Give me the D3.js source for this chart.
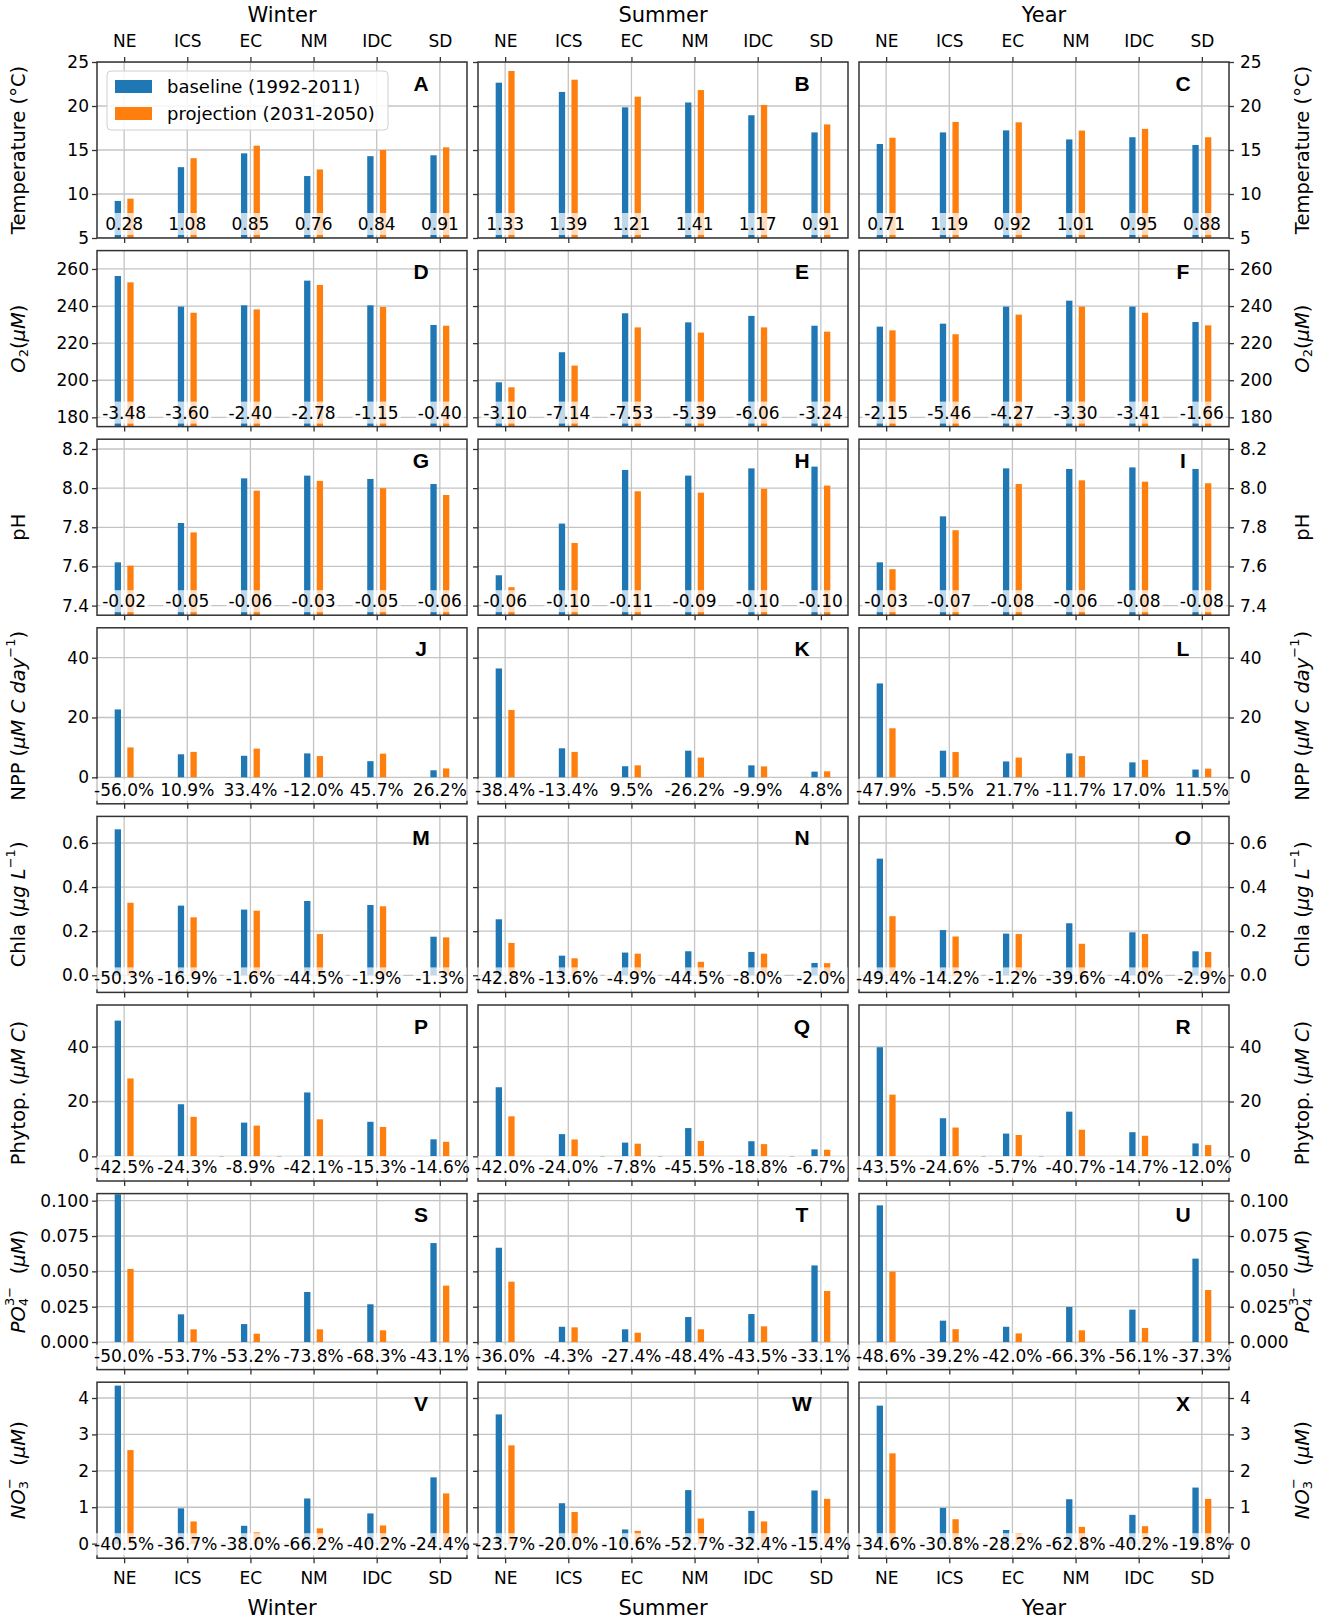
<!DOCTYPE html>
<html lang="en">
<head>
<meta charset="UTF-8">
<title>Baseline vs projection by region</title>
<script src="https://cdnjs.cloudflare.com/ajax/libs/d3/7.8.5/d3.min.js"></script>
<style>
    body { margin: 0; background: #fff; }
    svg text { font-family: "DejaVu Sans", sans-serif; fill: #000; white-space: pre; }
</style>
</head>
<body>
<svg id="chart" width="1325" height="1622"></svg>
<script>
// categories
const regions = ["NE", "ICS", "EC", "NM", "IDC", "SD"];
const periods = ["Winter", "Summer", "Year"];
const panelLetters = "ABCDEFGHIJKLMNOPQRSTUVWX".split("");
const seriesNames = ["baseline (1992-2011)", "projection (2031-2050)"];

// values per period: [Winter, Summer, Year] x regions
const tempBase = [[9.21, 13.05, 14.62, 12.04, 14.3, 14.4], [22.65, 21.6, 19.85, 20.4, 18.95, 17.0], [15.68, 17.0, 17.23, 16.2, 16.45, 15.57]];
const tempProj = [[9.47, 14.07, 15.49, 12.79, 15.0, 15.3], [23.98, 22.99, 21.06, 21.81, 20.12, 17.91], [16.39, 18.19, 18.15, 17.21, 17.4, 16.45]];
const tempDiff = [[0.28, 1.08, 0.85, 0.76, 0.84, 0.91], [1.33, 1.39, 1.21, 1.41, 1.17, 0.91], [0.71, 1.19, 0.92, 1.01, 0.95, 0.88]];

const o2Base = [[256.2, 239.7, 240.4, 253.7, 240.4, 229.8], [198.9, 215.1, 236.1, 231.2, 234.7, 229.4], [228.9, 230.5, 239.7, 242.9, 239.7, 231.4]];
const o2Proj = [[252.8, 236.4, 238.2, 251.4, 239.5, 229.4], [196.2, 207.9, 228.5, 225.7, 228.5, 226.2], [226.9, 224.8, 235.4, 239.7, 236.4, 229.6]];
const o2Diff = [[-3.48, -3.60, -2.40, -2.78, -1.15, -0.40], [-3.10, -7.14, -7.53, -5.39, -6.06, -3.24], [-2.15, -5.46, -4.27, -3.30, -3.41, -1.66]];

const phBase = [[7.621, 7.822, 8.050, 8.064, 8.047, 8.021], [7.555, 7.819, 8.093, 8.064, 8.101, 8.110], [7.621, 7.856, 8.101, 8.098, 8.106, 8.098]];
const phProj = [[7.604, 7.774, 7.987, 8.037, 8.000, 7.965], [7.494, 7.720, 7.984, 7.977, 7.997, 8.013], [7.586, 7.785, 8.021, 8.040, 8.033, 8.025]];
const phDiff = [[-0.02, -0.05, -0.06, -0.03, -0.05, -0.06], [-0.06, -0.10, -0.11, -0.09, -0.10, -0.10], [-0.03, -0.07, -0.08, -0.06, -0.08, -0.08]];

const nppBase = [[22.7, 7.7, 7.2, 8.0, 5.4, 2.35], [36.4, 9.7, 3.7, 8.9, 4.0, 1.9], [31.4, 8.9, 5.3, 8.0, 5.0, 2.6]];
const nppProj = [[10.0, 8.5, 9.6, 7.1, 7.9, 2.97], [22.5, 8.5, 4.0, 6.6, 3.65, 2.0], [16.4, 8.45, 6.6, 7.1, 5.85, 2.9]];
const nppPct = [[-56.0, 10.9, 33.4, -12.0, 45.7, 26.2], [-38.4, -13.4, 9.5, -26.2, -9.9, 4.8], [-47.9, -5.5, 21.7, -11.7, 17.0, 11.5]];

const chlaBase = [[0.662, 0.316, 0.298, 0.337, 0.319, 0.175], [0.254, 0.089, 0.103, 0.109, 0.106, 0.056], [0.529, 0.205, 0.189, 0.236, 0.195, 0.109]];
const chlaProj = [[0.329, 0.263, 0.293, 0.187, 0.313, 0.172], [0.147, 0.077, 0.098, 0.061, 0.098, 0.055], [0.268, 0.176, 0.187, 0.143, 0.187, 0.106]];
const chlaPct = [[-50.3, -16.9, -1.6, -44.5, -1.9, -1.3], [-42.8, -13.6, -4.9, -44.5, -8.0, -2.0], [-49.4, -14.2, -1.2, -39.6, -4.0, -2.9]];

const phytoBase = [[49.5, 19.0, 12.3, 23.3, 12.6, 6.2], [25.2, 8.1, 5.0, 10.3, 5.5, 2.55], [39.8, 13.9, 8.3, 16.3, 8.8, 4.7]];
const phytoProj = [[28.4, 14.4, 11.2, 13.5, 10.7, 5.3], [14.6, 6.15, 4.6, 5.6, 4.45, 2.4], [22.5, 10.5, 7.8, 9.7, 7.5, 4.1]];
const phytoPct = [[-42.5, -24.3, -8.9, -42.1, -15.3, -14.6], [-42.0, -24.0, -7.8, -45.5, -18.8, -6.7], [-43.5, -24.6, -5.7, -40.7, -14.7, -12.0]];

const po4Base = [[0.1045, 0.0196, 0.0127, 0.0354, 0.0267, 0.0700], [0.0667, 0.0108, 0.0090, 0.0177, 0.0198, 0.0542], [0.0967, 0.0151, 0.0108, 0.0248, 0.0229, 0.0590]];
const po4Proj = [[0.0517, 0.0090, 0.0059, 0.0090, 0.0083, 0.0399], [0.0427, 0.0104, 0.0066, 0.0090, 0.0111, 0.0361], [0.0498, 0.0091, 0.0061, 0.0083, 0.0099, 0.0368]];
const po4Pct = [[-50.0, -53.7, -53.2, -73.8, -68.3, -43.1], [-36.0, -4.3, -27.4, -48.4, -43.5, -33.1], [-48.6, -39.2, -42.0, -66.3, -56.1, -37.3]];

const no3Base = [[4.34, 0.97, 0.49, 1.24, 0.83, 1.82], [3.55, 1.11, 0.39, 1.47, 0.90, 1.46], [3.79, 0.98, 0.375, 1.22, 0.79, 1.54]];
const no3Proj = [[2.57, 0.61, 0.31, 0.42, 0.50, 1.38], [2.70, 0.87, 0.35, 0.69, 0.61, 1.23], [2.48, 0.67, 0.29, 0.46, 0.48, 1.23]];
const no3Pct = [[-40.5, -36.7, -38.0, -66.2, -40.2, -24.4], [-23.7, -20.0, -10.6, -52.7, -32.4, -15.4], [-34.6, -30.8, -28.2, -62.8, -40.2, -19.8]];

// tick labels
const tempTicks = [5, 10, 15, 20, 25];
const o2Ticks = [180, 200, 220, 240, 260];
const phTicks = [7.4, 7.6, 7.8, 8.0, 8.2];
const nppTicks = [0, 20, 40];
const chlaTicks = [0.0, 0.2, 0.4, 0.6];
const phytoTicks = [0, 20, 40];
const po4Ticks = [0.000, 0.025, 0.050, 0.075, 0.100];
const no3Ticks = [0, 1, 2, 3, 4];

// axis labels: [text, style]
const tempLabel = [["Temperature (°C)", ""]];
const o2Label = [["O", "i"], ["2", "sub"], ["(", ""], ["μM", "i"], [")", ""]];
const phLabel = [["pH", ""]];
const nppLabel = [["NPP (", ""], ["μM C day", "i"], ["−1", "sup"], [")", ""]];
const chlaLabel = [["Chla (", ""], ["μg L", "i"], ["−1", "sup"], [")", ""]];
const phytoLabel = [["Phytop. (", ""], ["μM C", "i"], [")", ""]];
const po4Label = [["PO", "i"], ["4", "sub"], ["3−", "supback"], ["  (", ""], ["μM", "i"], [")", ""]];
const no3Label = [["NO", "i"], ["3", "sub"], ["−", "supback"], ["  (", ""], ["μM", "i"], [")", ""]];

const fmtDiff = v => v.toFixed(2);
const fmtPct = v => v.toFixed(1) + "%";

const rows = [
    { base: tempBase, proj: tempProj, note: tempDiff, noteFmt: fmtDiff, ticks: tempTicks, tickFmt: d => d, domain: [5, 25], label: tempLabel },
    { base: o2Base, proj: o2Proj, note: o2Diff, noteFmt: fmtDiff, ticks: o2Ticks, tickFmt: d => d, domain: [175, 269.9], label: o2Label },
    { base: phBase, proj: phProj, note: phDiff, noteFmt: fmtDiff, ticks: phTicks, tickFmt: d => d.toFixed(1), domain: [7.351, 8.25], label: phLabel },
    { base: nppBase, proj: nppProj, note: nppPct, noteFmt: fmtPct, ticks: nppTicks, tickFmt: d => d, domain: [-8.86, 50], label: nppLabel },
    { base: chlaBase, proj: chlaProj, note: chlaPct, noteFmt: fmtPct, ticks: chlaTicks, tickFmt: d => d.toFixed(1), domain: [-0.0776, 0.7206], label: chlaLabel },
    { base: phytoBase, proj: phytoProj, note: phytoPct, noteFmt: fmtPct, ticks: phytoTicks, tickFmt: d => d, domain: [-9.0, 55.2], label: phytoLabel },
    { base: po4Base, proj: po4Proj, note: po4Pct, noteFmt: fmtPct, ticks: po4Ticks, tickFmt: d => d.toFixed(3), domain: [-0.0195, 0.105], label: po4Label },
    { base: no3Base, proj: no3Proj, note: no3Pct, noteFmt: fmtPct, ticks: no3Ticks, tickFmt: d => d, domain: [-0.40, 4.434], label: no3Label }
];

// layout
const colLeft = [97, 478, 859];
const panelW = 370, panelH = 176;
const rowTop0 = 62, rowStep = 188.6;
const colors = ["#1f77b4", "#ff7f0e"];
const gridColor = "#c4c4c4";
const barW = 0.1;

const svg = d3.select("#chart");
svg.append("rect").attr("width", 1325).attr("height", 1622).attr("fill", "#fff");
const defs = svg.append("defs");

function styleAxis(g) {
    g.attr("font-family", "DejaVu Sans").attr("font-size", 17);
    g.select(".domain").remove();
    g.selectAll(".tick line").attr("stroke", "#333").attr("stroke-width", 1.3);
    g.selectAll(".tick text").attr("fill", "#000");
}

function writeLabel(textSel, parts) {
    let shift = 0;
    parts.forEach(([txt, st]) => {
        const t = textSel.append("tspan").text(txt);
        let want = 0, size = null, dx = 0;
        if (st === "sub") { want = 5; size = 13; }
        if (st === "sup") { want = -8; size = 13; }
        if (st === "supback") { want = -9; size = 13; dx = -8; }
        if (st === "i") t.attr("font-style", "italic");
        if (size) t.attr("font-size", size);
        if (want !== shift) t.attr("dy", want - shift);
        if (dx) t.attr("dx", dx);
        shift = want;
    });
}

rows.forEach((row, r) => {
    const top = rowTop0 + r * rowStep;
    const bottom = top + panelH;
    const y = d3.scaleLinear().domain(row.domain).range([bottom, top]);

    periods.forEach((period, c) => {
        const left = colLeft[c];
        const x = d3.scaleLinear().domain([-0.43, 5.43]).range([left, left + panelW]);
        const g = svg.append("g");
        const clipId = `clip-${r}-${c}`;
        defs.append("clipPath").attr("id", clipId)
            .append("rect").attr("x", left).attr("y", top).attr("width", panelW).attr("height", panelH);
        const inner = g.append("g").attr("clip-path", `url(#${clipId})`);

        // grid
        inner.selectAll(".gx").data(regions).join("line")
            .attr("x1", (d, i) => x(i)).attr("x2", (d, i) => x(i))
            .attr("y1", top).attr("y2", bottom)
            .attr("stroke", gridColor).attr("stroke-width", 1.3);
        inner.selectAll(".gy").data(row.ticks).join("line")
            .attr("x1", left).attr("x2", left + panelW)
            .attr("y1", d => y(d)).attr("y2", d => y(d))
            .attr("stroke", gridColor).attr("stroke-width", 1.3);

        // bars
        [row.base[c], row.proj[c]].forEach((vals, s) => {
            const off = s === 0 ? -0.15 : 0.05;
            inner.selectAll(`.bar${s}`).data(vals).join("rect")
                .attr("x", (d, i) => x(i + off))
                .attr("width", x(barW) - x(0))
                .attr("y", d => y(d))
                .attr("height", d => Math.max(0, y(0) - y(d)))
                .attr("fill", colors[s]);
        });

        // frame
        g.append("rect").attr("x", left).attr("y", top).attr("width", panelW).attr("height", panelH)
            .attr("fill", "none").attr("stroke", "#333").attr("stroke-width", 1.5);

        // change labels (not clipped, they run over the frame)
        const ny = bottom - 14;
        row.note[c].forEach((v, i) => {
            const lg = g.append("g");
            const rect = lg.append("rect").attr("fill", "#fff").attr("fill-opacity", 0.72);
            const t = lg.append("text")
                .attr("x", x(i)).attr("y", ny)
                .attr("text-anchor", "middle").attr("dominant-baseline", "central")
                .attr("font-size", 17)
                .text(row.noteFmt(v));
            const bb = t.node().getBBox();
            rect.attr("x", bb.x - 2).attr("y", ny - 11).attr("width", bb.width + 4).attr("height", 22);
        });

        // panel letter
        g.append("text")
            .attr("x", left + 324).attr("y", top + 21)
            .attr("text-anchor", "middle").attr("dominant-baseline", "central")
            .attr("font-size", 21).attr("font-weight", "bold")
            .style("font-family", "'Liberation Sans', Arial, sans-serif")
            .text(panelLetters[r * 3 + c]);

        // x axes
        const xb = d3.axisBottom(x).tickValues(d3.range(regions.length)).tickSize(5)
            .tickPadding(9).tickFormat(i => r === rows.length - 1 ? regions[i] : "");
        g.append("g").attr("transform", `translate(0,${bottom})`).call(xb).call(styleAxis);
        if (r === 0) {
            const xt = d3.axisTop(x).tickValues(d3.range(regions.length)).tickSize(5)
                .tickPadding(10).tickFormat(i => regions[i]);
            g.append("g").attr("transform", `translate(0,${top})`).call(xt).call(styleAxis);
        }

        // y axes
        if (c < 2) {
            const ya = d3.axisLeft(y).tickValues(row.ticks).tickSize(5).tickPadding(3)
                .tickFormat(d => c === 0 ? row.tickFmt(d) : "");
            g.append("g").attr("transform", `translate(${left},0)`).call(ya).call(styleAxis);
        } else {
            const ya = d3.axisRight(y).tickValues(row.ticks).tickSize(5).tickPadding(6)
                .tickFormat(d => row.tickFmt(d));
            g.append("g").attr("transform", `translate(${left + panelW},0)`).call(ya).call(styleAxis);
        }
    });

    // row labels, both sides
    [18, 1302].forEach(lx => {
        const t = svg.append("text")
            .attr("transform", `translate(${lx},${top + panelH / 2}) rotate(-90)`)
            .attr("text-anchor", "middle").attr("dominant-baseline", "central")
            .attr("font-size", 19.5);
        writeLabel(t, row.label);
    });
});

// column titles
periods.forEach((p, c) => {
    const cx = colLeft[c] + panelW / 2;
    svg.append("text").attr("x", cx).attr("y", 22).attr("text-anchor", "middle")
        .attr("font-size", 21).text(p);
    svg.append("text").attr("x", cx).attr("y", 1615).attr("text-anchor", "middle")
        .attr("font-size", 21).text(p);
});

// legend in the first panel
const lg = svg.append("g").attr("transform", `translate(${colLeft[0] + 10},${rowTop0 + 9})`);
lg.append("rect").attr("width", 281).attr("height", 59).attr("rx", 4)
    .attr("fill", "#fff").attr("fill-opacity", 0.85).attr("stroke", "#d0d0d0");
seriesNames.forEach((name, s) => {
    lg.append("rect").attr("x", 8).attr("y", 9 + s * 27).attr("width", 37).attr("height", 13).attr("fill", colors[s]);
    lg.append("text").attr("x", 60).attr("y", 15.5 + s * 27).attr("dominant-baseline", "central")
        .attr("font-size", 18).text(name);
});
</script>
</body>
</html>
